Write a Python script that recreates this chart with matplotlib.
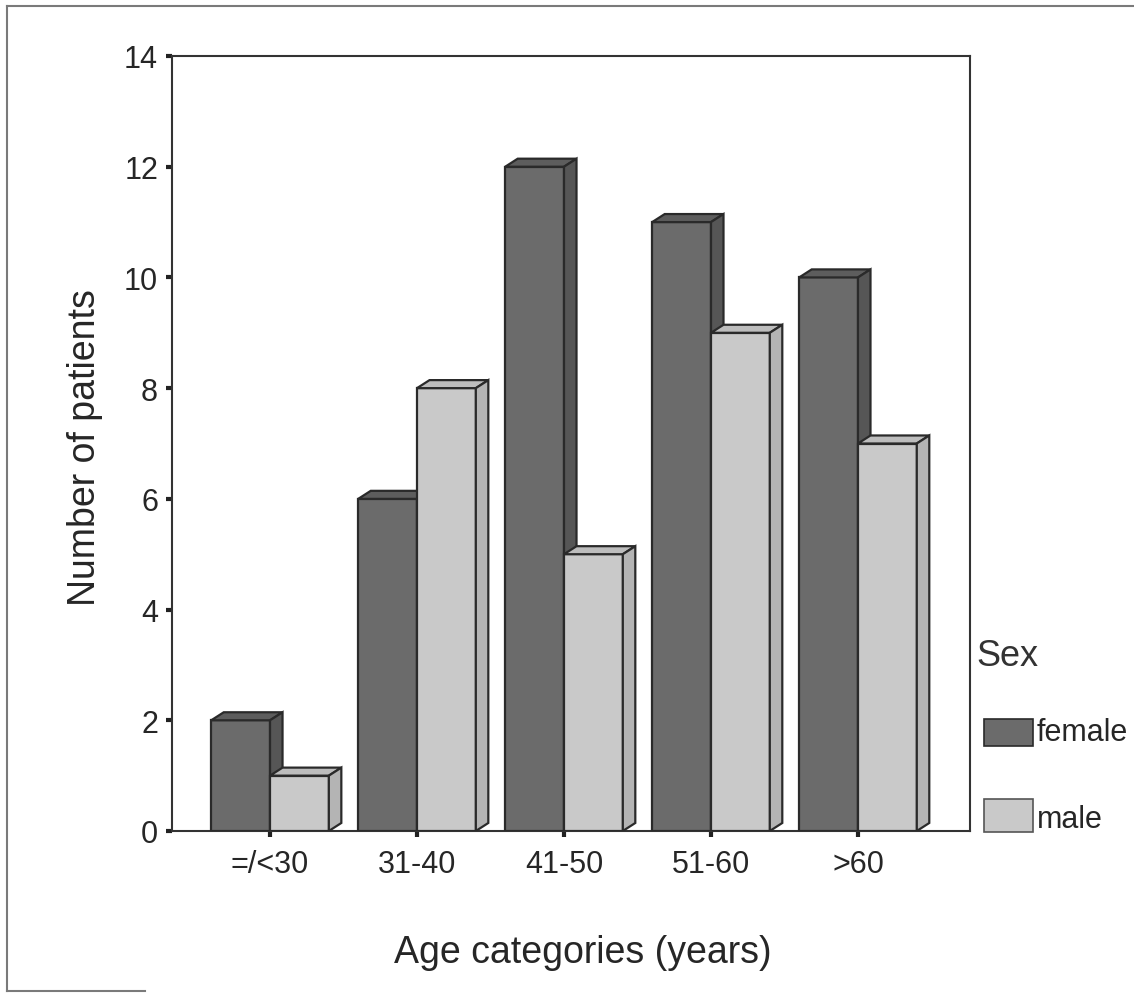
import matplotlib
matplotlib.use("Agg")
import matplotlib.pyplot as plt
from matplotlib.patches import Polygon, Rectangle
from matplotlib.lines import Line2D

plt.rcParams['font.family'] = ['Liberation Sans', 'DejaVu Sans']

categories = ["=/<30", "31-40", "41-50", "51-60", ">60"]
female = [2, 6, 12, 11, 10]
male = [1, 8, 5, 9, 7]
series_names = ["female", "male"]
yticks = [0, 2, 4, 6, 8, 10, 12, 14]

face_colors = {"female": "#6b6b6b", "male": "#c9c9c9"}
top_colors = {"female": "#5d5d5d", "male": "#bdbdbd"}
side_colors = {"female": "#565656", "male": "#b4b4b4"}
edge = "#2a2a2a"
text_col = "#262626"

fig = plt.figure(figsize=(11.34, 9.95), dpi=100)
ax = fig.add_axes([172/1134, 1-832/995, (970-172)/1134, (832-57)/995])

width = 0.40
dx, dy = 0.085, 0.145


def bar3d(x0, h, name):
    ax.add_patch(Rectangle((x0, 0), width, h, facecolor=face_colors[name],
                           edgecolor=edge, lw=1.6, zorder=3))
    ax.add_patch(Polygon([(x0, h), (x0 + dx, h + dy), (x0 + width + dx, h + dy),
                          (x0 + width, h)], closed=True,
                         facecolor=top_colors[name], edgecolor=edge, lw=1.6, zorder=3))
    ax.add_patch(Polygon([(x0 + width, 0), (x0 + width + dx, dy),
                          (x0 + width + dx, h + dy), (x0 + width, h)], closed=True,
                         facecolor=side_colors[name], edgecolor=edge, lw=1.6, zorder=3))


for i in range(len(categories)):
    bar3d(i - width, female[i], "female")
    bar3d(i, male[i], "male")

ax.set_xlim(-0.667, 4.762)
ax.set_ylim(0, 14)
ax.set_xticks(range(len(categories)))
ax.set_xticklabels(categories, fontsize=22, color=text_col)
ax.set_yticks(yticks)
ax.set_yticklabels([str(v) for v in yticks], fontsize=22, color=text_col)
ax.tick_params(axis='both', direction='out', length=4, width=3, color="#222222", pad=6)
ax.tick_params(axis='x', pad=9)
for s in ax.spines.values():
    s.set_linewidth(1.5)
    s.set_color("#333333")

fig.text(85/1134, 1-448/995, "Number of patients", fontsize=27, color=text_col,
         ha="center", va="center", rotation=90)
fig.text(583/1134, 1-953/995, "Age categories (years)", fontsize=27,
         color=text_col, ha="center", va="center")

# legend
fig.text(976/1134, 1-656/995, "Sex", fontsize=26, color="#333333", ha="left", va="center")
leg_boxes = [(720, 747, 733), (800, 833, 820)]
for name, (y0, y1, yt) in zip(series_names, leg_boxes):
    fig.patches.append(Rectangle((984/1134, 1-y1/995), 49/1134, (y1-y0)/995,
                                 transform=fig.transFigure, facecolor=face_colors[name],
                                 edgecolor=edge if name == "female" else "#555555", lw=1.2))
    fig.text(1037/1134, 1-yt/995, name, fontsize=22, color=text_col,
             ha="left", va="center")

# scanned page frame
fig.add_artist(Line2D([7/1134, 1], [1-7/995, 1-7/995], transform=fig.transFigure,
                      color="#7a7a7a", lw=1.5))
fig.add_artist(Line2D([7/1134, 7/1134], [1-7/995, 1-992/995], transform=fig.transFigure,
                      color="#7a7a7a", lw=1.5))
fig.add_artist(Line2D([7/1134, 145/1134], [1-992/995, 1-992/995], transform=fig.transFigure,
                      color="#7a7a7a", lw=1.5))

fig.savefig("out.png", dpi=100)
